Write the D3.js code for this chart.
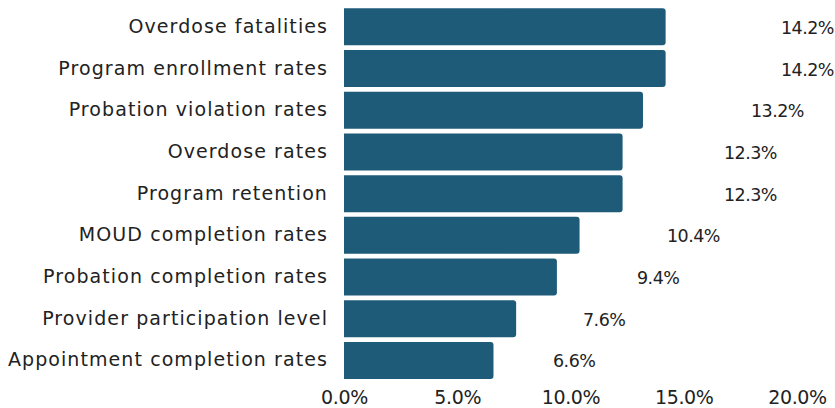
<!DOCTYPE html>
<html><head><meta charset="utf-8">
<script src="https://cdn.jsdelivr.net/npm/d3@7"></script>
<style>body{margin:0;background:#fff}svg{display:block}text{font-family:"DejaVu Sans",sans-serif;fill:#222}</style>
</head><body><svg id="c" width="835" height="408"></svg>
<script>
const categories = ["Overdose fatalities","Program enrollment rates","Probation violation rates","Overdose rates","Program retention","MOUD completion rates","Probation completion rates","Provider participation level","Appointment completion rates"];
const values = [14.2,14.2,13.2,12.3,12.3,10.4,9.4,7.6,6.6];
const tickValues = [0,5,10,15,20];

const svg = d3.select("#c");
const x = d3.scaleLinear().domain([0,20]).range([344,797]);
const y = d3.scaleBand().domain(categories).range([6,381.3]).paddingInner(0.113).paddingOuter(0.056);
const lx = d3.scaleLinear().domain([0,20]).range([355,955]);
const data = categories.map((c,i)=>({c, v: values[i]}));
const color = "#1e5b79";
const fmt = d=>d3.format(".1f")(d)+"%";
const FS = 19;

function barPath(x0,y0,x1,y1,r){
  return `M${x0},${y0}H${x1-r}Q${x1},${y0} ${x1},${y0+r}V${y1-r}Q${x1},${y1} ${x1-r},${y1}H${x0}Z`;
}
function fitSpacing(size, family, sample, target){
  const t = svg.append("text").style("font-size", size+"px").style("font-family", family).text(sample);
  const w = t.node().getBBox().width; t.remove();
  return (target - w)/(sample.length-1);
}

svg.append("g").selectAll("path").data(data).join("path")
  .attr("d", d=>barPath(x(0), y(d.c), x(d.v), y(d.c)+y.bandwidth(), 3))
  .attr("fill", color);

const catSp = fitSpacing(FS, "DejaVu Sans", "Appointment completion rates", 319);
svg.append("g").style("font-size", FS+"px").style("letter-spacing", catSp+"px")
  .selectAll("text").data(data).join("text")
  .attr("x", 328).attr("y", d=>y(d.c)+y.bandwidth()/2+6)
  .attr("text-anchor","end").text(d=>d.c);

const VF = "'Open Sans',sans-serif";
const vlSp = fitSpacing(17.5, VF, "14.2%", 47);
svg.append("g").style("font-size","17.5px").style("font-family", VF).style("letter-spacing", vlSp+"px")
  .selectAll("text").data(data).join("text")
  .attr("x", d=>lx(d.v)).attr("y", d=>y(d.c)+y.bandwidth()/2+7)
  .attr("text-anchor","start").text(d=>fmt(d.v));

const ax = svg.append("g").attr("transform","translate(0,384)")
  .call(d3.axisBottom(x).tickValues(tickValues).tickSize(0).tickFormat(fmt));
ax.select(".domain").remove();
const axSp = fitSpacing(FS, "DejaVu Sans", "20.0%", 59);
ax.selectAll("text").attr("y", 19.5).attr("dy", 0).attr("fill","#222")
  .style("font-family","'DejaVu Sans',sans-serif").style("font-size", FS+"px").style("letter-spacing", axSp+"px");
</script></body></html>
